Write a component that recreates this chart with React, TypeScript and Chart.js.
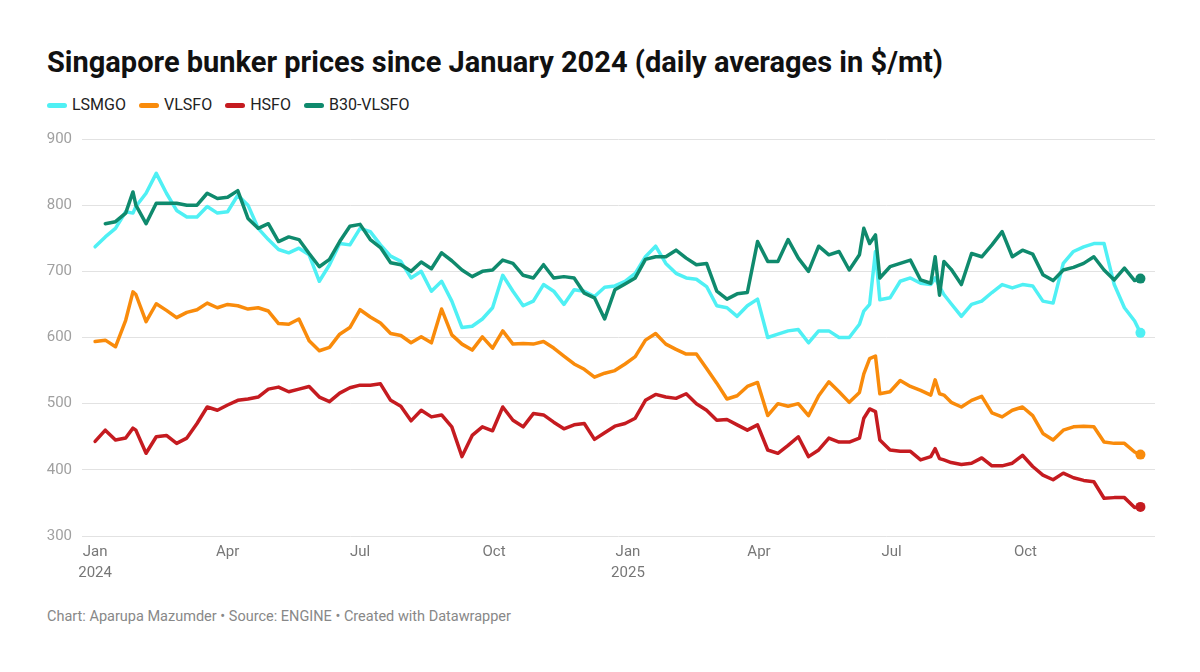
import React, { useEffect, useRef } from "react";
import { Chart, registerables } from "chart.js";

Chart.register(...registerables);

// Day index counted from 1 January 2024
const days = [
  0, 7, 14, 21, 26, 28, 35, 42, 49, 56,
  63, 70, 77, 84, 91, 98, 105, 112, 119, 126,
  133, 140, 147, 154, 161, 168, 175, 182, 189, 196,
  203, 210, 217, 224, 231, 238, 245, 252, 259, 266,
  273, 280, 287, 294, 301, 308, 315, 322, 329, 336,
  343, 350, 357, 364, 371, 378, 385, 392, 399, 406,
  413, 420, 427, 434, 441, 448, 455, 462, 469, 476,
  483, 490, 497, 504, 511, 518, 525, 528, 532, 536,
  539, 546, 553, 560, 567, 574, 577, 580, 583, 588,
  595, 602, 609, 616, 623, 630, 637, 644, 651, 658,
  665, 672, 679, 686, 693, 700, 707, 714, 718,
];

const lsmgo = [
  737, 752, 765, 790, 788, 798, 818, 848, 818, 792,
  782, 782, 798, 788, 790, 815, 800, 765, 748, 733,
  728, 735, 725, 685, 710, 742, 740, 765, 760, 740,
  723, 715, 690, 700, 670, 685, 655, 615, 617, 628,
  645, 694, 670, 648, 655, 680, 670, 650, 672, 670,
  662, 676, 678, 685, 697, 722, 738, 712, 697, 690,
  688, 677, 648, 645, 632, 648, 658, 600, 605, 610,
  612, 592, 610, 610, 600, 600, 620, 640, 650, 730,
  657, 660, 685, 690, 682, 680, 690, 677, 665, 651,
  632, 650, 655, 668, 680, 675, 680, 678, 655, 652,
  712, 730, 737, 742, 742, 680, 645, 625, 607,
];

const vlsfo = [
  594, 596, 586, 626, 669, 665, 624, 651, 641, 630,
  638, 642, 652, 645, 650, 648, 643, 645, 640, 621,
  620, 628, 595, 580, 585, 605, 615, 642, 631, 622,
  606, 603, 592, 601, 592, 643, 604, 590, 581, 601,
  584, 610, 590, 591, 590, 594, 584, 572, 560, 552,
  540, 546, 550, 560, 571, 596, 606, 590, 582, 575,
  575, 553, 531, 507, 512, 526, 532, 482, 500, 496,
  500, 482, 512, 533, 518, 502, 517, 545, 568, 572,
  515, 518, 535, 526, 520, 513, 536, 515, 513, 502,
  495, 505, 511, 486, 480, 490, 495, 482, 455, 445,
  460, 465, 466, 465, 442, 440, 440, 427, 423,
];

const hsfo = [
  443, 460, 445, 448, 463, 460, 425, 450, 452, 440,
  448, 470, 495, 490, 498, 505, 507, 510, 522, 525,
  518, 522, 526, 510, 503, 516, 524, 528, 528, 530,
  505, 496, 474, 490, 480, 483, 465, 420, 452, 465,
  459, 495, 475, 465, 485, 483, 472, 462, 468, 470,
  446, 456, 466, 470, 478, 505, 514, 510, 508, 515,
  500, 490, 475, 476, 468, 460, 468, 430, 425, 437,
  450, 420, 430, 448, 442, 442, 448, 478, 492, 488,
  445, 430, 428, 428, 415, 420, 432, 417, 415, 411,
  408, 410, 418, 406, 406, 410, 422, 405, 392, 385,
  395, 388, 384, 382, 357, 358, 358, 343, 344,
];

const b30vlsfo = [
  null, 772, 775, 788, 820, 800, 772, 803, 803, 803,
  800, 800, 818, 810, 812, 822, 780, 765, 772, 745,
  752, 748, 727, 707, 718, 745, 768, 771, 748, 736,
  713, 710, 700, 714, 704, 728, 716, 702, 692, 700,
  702, 717, 712, 694, 690, 710, 690, 692, 690, 667,
  660, 628, 672, 681, 690, 718, 722, 722, 732, 720,
  710, 712, 670, 658, 666, 668, 745, 715, 715, 748,
  720, 700, 738, 725, 730, 702, 725, 765, 742, 755,
  690, 707, 712, 717, 687, 682, 722, 664, 715, 703,
  680, 727, 722, 740, 760, 722, 732, 726, 695, 686,
  702, 706, 712, 722, 702, 687, 705, 686, 689,
];

const seriesNames = ["LSMGO", "VLSFO", "HSFO", "B30-VLSFO"];
const seriesColors = ["#4ff0f4", "#f98b0b", "#c51b20", "#0f8a6d"];
const seriesValues = [lsmgo, vlsfo, hsfo, b30vlsfo];

const tickDays = [0, 91, 182, 274, 366, 456, 547, 639];
const tickLabels: (string | string[])[] = [
  ["Jan", "2024"], "Apr", "Jul", "Oct", ["Jan", "2025"], "Apr", "Jul", "Oct",
];
const yTicks = [300, 400, 500, 600, 700, 800, 900];

const FONT = "Roboto, 'Noto Sans', Arial, sans-serif";

export default function App() {
  const canvasRef = useRef<HTMLCanvasElement | null>(null);

  useEffect(() => {
    if (!canvasRef.current) return;
    const datasets = seriesValues.map((vals, si) => {
      const pts: { x: number; y: number }[] = [];
      vals.forEach((v, i) => {
        if (v !== null && v !== undefined) pts.push({ x: days[i], y: v as number });
      });
      const n = pts.length;
      return {
        label: seriesNames[si],
        data: pts,
        borderColor: seriesColors[si],
        backgroundColor: seriesColors[si],
        borderWidth: 3.5,
        borderJoinStyle: "round" as const,
        borderCapStyle: "round" as const,
        tension: 0,
        fill: false,
        order: si === 3 ? 0 : si === 0 ? 1 : 2,
        pointRadius: (ctx: any) => (ctx.dataIndex === n - 1 ? 5 : 0),
        pointHoverRadius: 0,
        pointBorderWidth: 0,
        pointBackgroundColor: seriesColors[si],
      };
    });

    const chart = new Chart(canvasRef.current, {
      type: "line",
      data: { datasets },
      options: {
        animation: false,
        responsive: true,
        maintainAspectRatio: false,
        layout: { padding: { left: 47, right: 45, top: 19, bottom: 0 } },
        plugins: {
          legend: { display: false },
          tooltip: { enabled: false },
          title: { display: false },
        },
        scales: {
          x: {
            type: "linear",
            min: -9,
            max: 728,
            afterBuildTicks: (scale: any) => {
              scale.ticks = tickDays.map((v) => ({ value: v }));
            },
            afterFit: (scale: any) => {
              scale.height = 54;
            },
            ticks: {
              autoSkip: false,
              maxRotation: 0,
              padding: 5,
              color: "#777777",
              font: { family: FONT, size: 15, lineHeight: 1.45 },
              callback: (_v: any, index: number) => tickLabels[index],
            },
            grid: { display: false, drawTicks: false },
            border: { display: false },
          },
          y: {
            type: "linear",
            min: 300,
            max: 900,
            afterBuildTicks: (scale: any) => {
              scale.ticks = yTicks.map((v) => ({ value: v }));
            },
            afterFit: (scale: any) => {
              scale.width = 35;
            },
            ticks: {
              padding: 10,
              color: "#a0a0a0",
              font: { family: FONT, size: 15 },
            },
            grid: { color: "#e2e2e2", lineWidth: 1, drawTicks: false },
            border: { display: false },
          },
        },
      },
    });
    return () => chart.destroy();
  }, []);

  return (
    <div
      style={{
        position: "absolute",
        left: 0,
        top: 0,
        width: 1200,
        height: 672,
        background: "#ffffff",
        fontFamily: FONT,
        overflow: "hidden",
      }}
    >
      <div
        style={{
          position: "absolute",
          left: 47,
          top: 45,
          fontSize: 29,
          lineHeight: "34px",
          fontWeight: 700,
          color: "#111111",
          whiteSpace: "nowrap",
        }}
      >
        Singapore bunker prices since January 2024 (daily averages in $/mt)
      </div>
      <div
        style={{
          position: "absolute",
          left: 47,
          top: 95,
          height: 20,
          display: "flex",
          alignItems: "center",
          fontSize: 16,
          lineHeight: "20px",
          color: "#222222",
          whiteSpace: "nowrap",
        }}
      >
        {seriesNames.map((name, i) => (
          <div key={name} style={{ display: "flex", alignItems: "center", marginRight: 13 }}>
            <span
              style={{
                display: "inline-block",
                width: 20,
                height: 5,
                borderRadius: 3,
                background: seriesColors[i],
                marginRight: 5,
              }}
            />
            <span>{name}</span>
          </div>
        ))}
      </div>
      <div style={{ position: "absolute", left: 0, top: 120, width: 1200, height: 470 }}>
        <canvas ref={canvasRef} />
      </div>
      <div
        style={{
          position: "absolute",
          left: 47,
          top: 607,
          fontSize: 14.5,
          lineHeight: "20px",
          color: "#888888",
          whiteSpace: "nowrap",
        }}
      >
        Chart: Aparupa Mazumder • Source: ENGINE • Created with Datawrapper
      </div>
    </div>
  );
}
